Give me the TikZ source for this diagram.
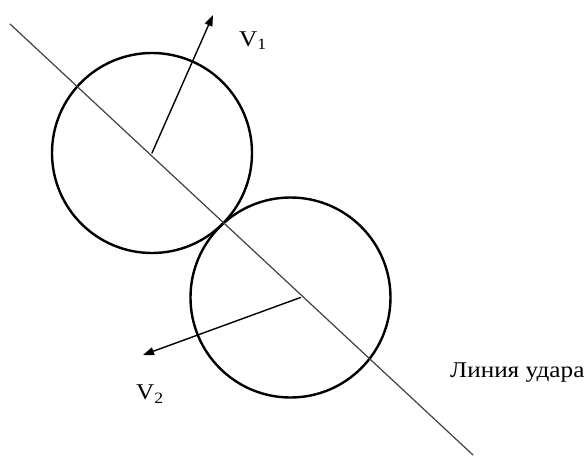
\documentclass[tikz,border=0pt]{standalone}
\usepackage{fontspec}
\setmainfont{Liberation Serif}
\newfontfamily\lblfont{Liberation Serif}[FakeStretch=1.12]
\usetikzlibrary{arrows.meta}

\begin{document}
\begin{tikzpicture}[x=1pt, y=-1pt, line cap=round, >={Triangle[length=11pt,width=8pt]},
    ball/.style={line width=2.4pt},
    impact/.style={line width=1.2pt, black!75},
    vel/.style={->, line width=1.4pt},
    lbl/.style={font=\lblfont\fontsize{22.5}{26}\selectfont, inner sep=0pt}]
  \useasboundingbox (0,0) rectangle (588,457);
  % centres of the two balls and the line of impact
  \coordinate (c1) at (152,153);
  \coordinate (c2) at (290.5,297.5);
  \coordinate (o2) at (300.5,297.5);
  \coordinate (lineA) at (10,24);
  \coordinate (lineB) at (473,455);
  \coordinate (v1tip) at (213,15);
  \coordinate (v2tip) at (143,355);
  \draw[ball] (c1) circle[radius=100pt];
  \draw[ball] (c2) circle[radius=100pt];
  \draw[impact] (lineA) -- (lineB);
  \draw[vel] (c1) -- (v1tip);
  \draw[vel] (o2) -- (v2tip);
  \node[lbl] (v1) at (253,41) {V\textsubscript{1}};
  \node[lbl] (v2) at (150,394) {V\textsubscript{2}};
  \node[lbl, anchor=base west] (udar) at (450,377) {Линия удара};
\end{tikzpicture}
\end{document}
